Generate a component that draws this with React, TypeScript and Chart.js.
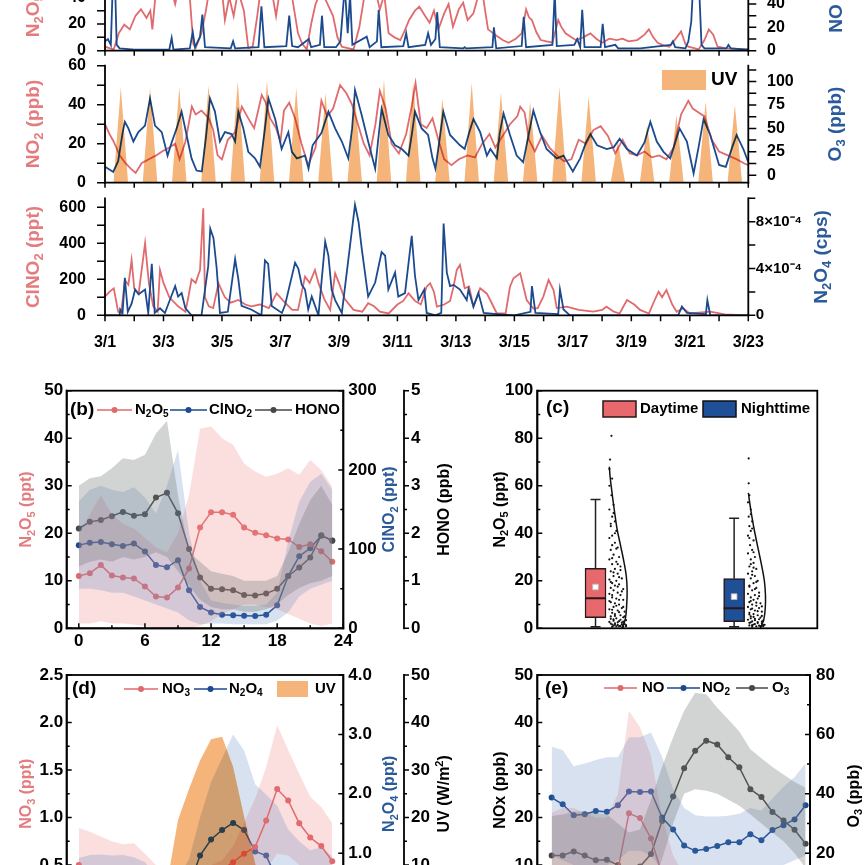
import { useEffect, useRef } from "react";
import { Chart, registerables } from "chart.js";

Chart.register(...registerables);

const FONT = "'Liberation Sans', Arial, Helvetica, sans-serif";
Chart.defaults.font.family = FONT;
Chart.defaults.font.weight = "bold";
Chart.defaults.color = "#000";

const PINK = "#E06A6D";
const BLUE = "#1B4A8E";
const GRAY = "#474747";
const PINK_T = "#E47C7F";
const BLUE_T = "#2B5A9B";
const UV_FILL = "rgb(245,180,122)";
const BAND_PINK = "rgba(240,140,140,0.28)";
const BAND_BLUE = "rgba(90,130,190,0.24)";
const BAND_GRAY = "rgba(105,112,112,0.3)";
const BOX_DAY = "#E8696D";
const BOX_NIGHT = "#1F4F97";

// ---- (a) time series, x = days since 3/1 ----
const n2o5TS = [[0,3],[0.15,2],[0.3,1],[0.47,13],[0.66,19.5],[0.85,16],[1.04,26],[1.23,31],[1.42,24.5],[1.55,30],[1.62,16],[1.72,40],[1.8,48],[2.0,55],[2.2,52],[2.4,35],[2.55,50],[2.75,60],[2.9,40],[3.02,5],[3.1,2],[3.3,13],[3.45,30],[3.6,50],[3.8,58],[4.0,45],[4.1,23],[4.25,40],[4.4,26],[4.55,45],[4.75,30],[4.9,2],[5.05,3],[5.2,25],[5.35,50],[5.55,60],[5.7,45],[5.85,26],[6.0,48],[6.2,55],[6.4,40],[6.6,13],[6.75,5],[6.9,1],[7.05,20],[7.2,35],[7.4,45],[7.55,38],[7.8,26],[7.95,10],[8.1,3],[8.3,2],[8.5,1],[8.7,18],[8.9,45],[9.1,55],[9.25,45],[9.4,31],[9.55,42],[9.7,13],[9.9,10],[10.1,8],[10.25,15],[10.4,23],[10.6,30],[10.75,33],[10.95,26],[11.1,21],[11.25,30],[11.4,16],[11.6,28],[11.75,35],[11.9,18],[12.1,31],[12.25,36],[12.4,23],[12.6,28],[12.75,40],[12.9,45],[13.0,30],[13.1,16],[13.4,11],[13.6,8],[13.8,6],[14.05,9],[14.25,13],[14.4,31],[14.5,25],[14.6,23],[14.75,14],[14.9,8],[15.1,7],[15.3,6],[15.5,23],[15.6,18],[15.75,13],[15.95,10],[16.1,8],[16.35,10],[16.6,13],[16.8,9],[17.0,6],[17.25,9],[17.5,8],[17.7,9],[17.9,7],[18.2,8],[18.45,12],[18.6,16],[18.75,10],[18.9,6],[19.1,4],[19.3,3],[19.55,10],[19.7,14.5],[19.85,5],[19.95,3],[20.15,2],[20.3,1],[20.5,8],[20.65,16],[20.8,12],[20.95,3],[21.2,2],[21.5,1.5],[21.8,1],[22,1]];

const noTS = [[0,8],[0.1,10],[0.2,5],[0.27,60],[0.33,70],[0.4,5],[0.5,2],[1.0,1],[2.2,1],[2.28,11],[2.34,1],[2.9,2],[3.0,16],[3.08,3],[3.25,12],[3.33,31],[3.42,3],[4.3,2],[4.38,8],[4.45,2],[5.25,3],[5.35,38],[5.45,3],[6.2,4],[6.3,30],[6.4,4],[6.6,3],[6.97,10],[7.05,3],[7.35,5],[7.42,30],[7.5,3],[7.9,3],[8.05,8],[8.2,55],[8.3,15],[8.38,48],[8.46,5],[8.95,12],[9.05,3],[9.3,8],[9.36,35],[9.45,3],[10.2,4],[10.3,15],[10.38,3],[10.95,5],[11.05,15],[11.15,5],[11.3,10],[11.36,33],[11.45,3],[12.25,2],[12.3,3],[12.35,2],[13.25,3],[13.3,20],[13.38,2],[14.25,4],[14.32,29],[14.4,3],[15.3,5],[15.38,50],[15.45,4],[16.05,5],[16.15,10],[16.25,3],[16.32,35],[16.4,3],[16.95,3],[17.02,23],[17.1,3],[17.45,5],[17.55,2],[18.3,2],[19.35,5],[19.42,8],[19.5,3],[19.85,2],[19.95,8],[20.05,25],[20.12,60],[20.2,70],[20.3,65],[20.4,5],[20.5,2],[21.25,2],[21.32,5],[21.4,2],[22,1]];

const no2TS = [[0,30],[0.15,25],[0.3,21],[0.5,14],[0.7,10],[0.9,7],[1.05,5],[1.25,10],[1.5,12],[1.75,14],[1.95,16],[2.2,18],[2.4,20],[2.55,12],[2.75,21],[2.97,39],[3.1,35],[3.3,37],[3.55,33],[3.7,27],[3.85,14],[4.0,12],[4.2,22],[4.45,26],[4.68,39],[4.9,33],[5.1,28],[5.36,45],[5.5,41],[5.65,33],[5.85,28],[6.0,21],[6.12,37],[6.3,41],[6.5,33],[6.72,20],[6.95,9],[7.2,18],[7.4,42],[7.6,34],[7.8,38],[8.04,50],[8.25,46],[8.45,40],[8.65,30],[8.85,20],[9.05,14],[9.25,30],[9.4,47],[9.6,38],[9.8,20],[10.05,15],[10.3,25],[10.5,40],[10.62,51],[10.8,30],[11.0,28],[11.2,33],[11.4,22],[11.6,12],[11.85,9],[12.1,12],[12.4,14],[12.65,13],[12.9,20],[13.15,25],[13.35,18],[13.6,24],[13.85,30],[14.1,34],[14.2,39],[14.35,36],[14.5,22],[14.7,16],[14.95,24],[15.2,18],[15.45,14],[15.7,11],[15.95,12],[16.2,22],[16.45,20],[16.7,27],[16.95,29],[17.2,24],[17.45,15],[17.7,22],[17.95,15],[18.2,14],[18.45,16],[18.7,13],[18.95,14],[19.2,12],[19.45,18],[19.7,35],[19.95,42],[20.1,38],[20.3,36],[20.5,34],[20.75,22],[21.0,16],[21.3,14],[21.6,12],[21.85,10],[22,9]];

const o3TS = [[0,9],[0.15,6],[0.28,3.5],[0.45,15],[0.6,45],[0.68,57],[0.8,50],[0.97,36],[1.14,46],[1.37,53],[1.54,82],[1.71,53],[1.94,46],[2.14,21],[2.28,35],[2.45,50],[2.62,68],[2.79,43],[2.96,18],[3.13,5],[3.31,4],[3.45,40],[3.59,82],[3.76,68],[3.93,36],[4.1,46],[4.33,44],[4.45,36],[4.56,68],[4.73,50],[4.9,25],[5.13,18],[5.3,9],[5.45,45],[5.59,82],[5.82,60],[6.04,28],[6.27,46],[6.39,25],[6.56,18],[6.84,21],[6.96,7],[7.1,32],[7.4,45],[7.64,68],[7.87,50],[8.1,36],[8.32,18],[8.45,50],[8.55,91],[8.78,64],[9.0,36],[9.24,7],[9.35,40],[9.46,71],[9.69,43],[9.92,32],[10.15,28],[10.38,21],[10.5,45],[10.6,68],[10.83,50],[11.05,43],[11.2,18],[11.3,7],[11.45,40],[11.57,68],[11.8,43],[12.14,32],[12.3,28],[12.45,45],[12.6,60],[12.83,46],[13.06,21],[13.18,28],[13.4,18],[13.5,45],[13.63,66],[13.85,43],[14.08,21],[14.3,14],[14.5,45],[14.65,69],[14.88,46],[15.1,28],[15.45,18],[15.68,21],[16.0,4],[16.25,18],[16.45,35],[16.6,44],[16.83,32],[17.16,28],[17.4,30],[17.6,39],[17.85,28],[18.19,21],[18.45,35],[18.65,57],[18.87,36],[19.1,25],[19.33,18],[19.5,35],[19.65,50],[19.9,36],[20.13,2],[20.3,30],[20.47,60],[20.7,43],[21.0,11],[21.23,9],[21.45,30],[21.6,43],[21.83,28],[22.0,14]];

// daily UV peak (same units as NO2 axis), one per day 3/1..3/22
const uvPeaks = [48.9,48.9,48.9,50,52,52.6,48.4,46,45,53,51.8,43.2,51.3,46.2,41.5,48.9,44.1,21,29.6,34.7,41.5,39.8];
const uvRise = 0.29, uvNoon = 0.54, uvSet = 0.79;

const clno2TS = [[0,104],[0.15,130],[0.3,150],[0.45,20],[0.55,10],[0.68,196],[0.8,170],[0.91,307],[1.0,150],[1.15,120],[1.37,400],[1.5,180],[1.65,50],[1.8,20],[1.88,252],[2.0,180],[2.2,100],[2.5,50],[2.75,20],[2.85,100],[2.96,200],[3.1,180],[3.25,252],[3.36,594],[3.42,100],[3.55,50],[3.7,40],[3.88,178],[4.1,100],[4.3,70],[4.56,85],[4.8,60],[5.0,50],[5.3,60],[5.6,40],[5.87,122],[6.1,80],[6.4,30],[6.6,30],[6.84,215],[7.0,180],[7.18,252],[7.3,180],[7.5,90],[7.7,30],[7.87,233],[8.0,180],[8.2,90],[8.5,30],[8.8,20],[9.0,67],[9.2,50],[9.4,20],[9.7,10],[10.0,60],[10.2,80],[10.38,122],[10.6,80],[10.8,60],[11.0,159],[11.12,178],[11.25,130],[11.35,48],[11.6,60],[11.8,80],[11.92,159],[12.03,252],[12.14,280],[12.3,150],[12.45,160],[12.6,48],[12.83,150],[13.06,120],[13.25,60],[13.4,10],[13.7,10],[13.85,159],[13.97,206],[14.2,233],[14.42,85],[14.65,38],[14.8,40],[14.99,104],[15.17,196],[15.34,140],[15.45,40],[15.79,48],[16.2,30],[16.7,20],[17.0,30],[17.15,48],[17.4,20],[17.6,10],[17.85,85],[18.1,60],[18.3,30],[18.6,10],[18.75,67],[18.93,131],[19.05,100],[19.2,141],[19.4,60],[19.55,20],[19.77,39],[20.0,10],[20.7,20],[21.2,5],[21.6,2],[22,0]];

// N2O4 in units of 1e-4 cps
const n2o4TS = [[0,0],[0.5,0],[0.52,0.5],[0.6,0.2],[0.68,3.2],[0.78,0.3],[0.91,1.0],[1.03,2.2],[1.15,1.8],[1.37,2.2],[1.48,0.2],[1.6,4.4],[1.7,0.2],[1.88,0.6],[2.05,0.2],[2.4,2.5],[2.5,1.6],[2.62,1.9],[2.75,0.6],[2.96,0],[3.3,0],[3.53,4.2],[3.6,7.4],[3.71,6.6],[3.82,4.0],[3.93,0.2],[4.2,0.3],[4.45,4.8],[4.56,3.1],[4.67,0.8],[5.0,0.5],[5.35,0],[5.47,4.7],[5.58,4.4],[5.7,0.8],[6.05,0.2],[6.16,0.9],[6.5,4.5],[6.61,4.0],[6.73,2.6],[6.84,2.2],[6.95,0.5],[7.07,1.6],[7.3,0],[7.53,6.3],[7.64,5.1],[7.75,2.2],[7.87,1.3],[8.1,0.2],[8.55,9.45],[8.67,8.0],[8.78,5.7],[9.0,1.6],[9.24,2.8],[9.46,5.4],[9.58,5.1],[9.69,2.2],[9.92,3.65],[10.03,1.6],[10.26,1.9],[10.49,6.8],[10.6,3.4],[10.72,1.3],[10.92,2.2],[11.0,0.2],[11.3,0],[11.5,0.2],[11.58,7.85],[11.69,3.65],[11.8,2.5],[11.92,2.6],[12.14,2.2],[12.37,1.3],[12.43,2.2],[12.6,0.75],[12.77,1.9],[12.95,0.2],[13.4,0.1],[14.0,0],[14.55,0.3],[14.6,2.5],[14.72,0.2],[15.5,0.1],[15.56,2.2],[15.68,0.5],[15.9,0],[19.6,0],[19.73,0.75],[19.9,0.2],[20.55,0.1],[20.6,1.3],[20.7,0],[22,0]];

const dayTicks = [0,1,2,3,4,5,6,7,8,9,10,11,12,13,14,15,16,17,18,19,20,21,22];
const dateTicks = [0,2,4,6,8,10,12,14,16,18,20,22];
const dateNames = ["3/1","3/3","3/5","3/7","3/9","3/11","3/13","3/15","3/17","3/19","3/21","3/23"];
const n2o5Ticks = [0,10,20,30,40,50,60,70,80];
const n2o5Labels = [0,20,40,60,80];
const noTicks = [0,10,20,30,40,50,60,70,80,90,100];
const noLabels = [0,20,40,60,80,100];
const no2Ticks = [0,10,20,30,40,50,60];
const no2Labels = [0,20,40,60];
const o3Ticks = [0,12.5,25,37.5,50,62.5,75,87.5,100,112.5];
const o3Labels = [0,25,50,75,100];
const clTicks = [0,100,200,300,400,500,600];
const clLabels = [0,200,400,600];
const n2o4Ticks = [0,2,4,6,8,10];
const n2o4Labels = [0,4,8];

// ---- (b) (d) (e) diurnal, x = hour ----
const hours = [0,1,2,3,4,5,6,7,8,9,10,11,12,13,14,15,16,17,18,19,20,21,22,23];
const bN2o5 = [11.0,11.6,13.3,11.1,10.7,10.5,8.8,6.7,6.5,8.6,12.6,21.2,24.4,24.4,23.9,21.2,20.1,19.6,18.9,18.7,17.1,17.7,16.2,14.0];
const bN2o5Hi = [20,24,28,24,22,21,19,17,16,20,28,42,42.5,40,38.6,34.7,33,31.9,32.5,33.7,32.3,35.4,33.3,29.8];
const bN2o5Lo = [1,1,1.5,1,1,0.8,0.5,0,0,0,0,0.5,1.5,3,4,5,5,4.5,4,3,2,1,0.5,1];
const bClno2 = [105,108,109,106,104,107,97,80,77,86,48,27,20,17,16.5,16,15.5,17,29,66,91,101,117,111];
const bClHi = [160,175,180,175,172,178,165,145,180,225,120,60,35,32,30,28,28,30,45,110,160,185,195,175];
const bClLo = [50,50,48,45,45,40,35,30,25,20,10,5,6,6,5,5,5,5,10,20,40,50,55,60];
const bHono = [2.10,2.24,2.28,2.36,2.45,2.37,2.40,2.75,2.85,2.42,1.67,1.07,0.83,0.82,0.80,0.70,0.69,0.73,0.83,1.10,1.28,1.49,1.96,1.84];
const bHonoHi = [3.0,3.16,3.2,3.37,3.58,3.54,3.65,4.1,4.37,2.8,1.6,1.4,1.2,1.15,1.1,1.0,1.0,1.0,1.1,1.6,2.2,2.7,3.0,2.6];
const bHonoLo = [1.3,1.4,1.45,1.4,1.5,1.45,1.5,1.6,1.5,1.2,0.9,0.6,0.45,0.4,0.4,0.35,0.35,0.4,0.5,0.7,0.85,0.95,1.0,1.1];

const dNo3 = [0.50,0.46,0.43,0.40,0.38,0.36,0.34,0.32,0.30,0.30,0.31,0.33,0.38,0.45,0.53,0.62,0.69,0.97,1.30,1.18,0.94,0.79,0.70,0.54];
const dNo3Hi = [0.89,0.85,0.80,0.75,0.72,0.73,0.62,0.5,0.45,0.42,0.42,0.45,0.5,0.55,0.7,0.95,1.2,1.53,1.97,1.71,1.46,1.22,1.11,0.94];
const dNo3Lo = [0.15,0.14,0.13,0.12,0.12,0.11,0.1,0.1,0.1,0.1,0.1,0.12,0.15,0.2,0.25,0.3,0.35,0.45,0.62,0.6,0.5,0.45,0.4,0.3];
const dN2o4 = [0.30,0.28,0.27,0.26,0.25,0.25,0.24,0.24,0.25,0.30,0.45,0.96,1.23,1.39,1.51,1.39,1.03,0.96,0.55,0.40,0.35,0.33,0.32,0.31];
const dN2o4Hi = [0.92,0.97,0.98,0.96,0.97,0.93,0.85,0.6,0.55,0.6,0.9,1.6,2.2,2.6,3.0,2.73,2.16,1.99,1.8,1.4,1.2,1.05,1.1,0.95];
const dN2o4Lo = [0.05,0.05,0.05,0.05,0.05,0.05,0.05,0.05,0.06,0.08,0.15,0.35,0.55,0.7,0.8,0.7,0.45,0.35,0.2,0.1,0.08,0.07,0.06,0.05];
const dUv = [0,0,0,0,0,0,0,0,6,19.5,26,32,36.5,37,30.7,20.2,10.4,3,0,0,0,0,0,0];

const eNo = [7,6.5,6,5.5,5.5,6,9,20.9,19.9,15.6,8,4,2.5,2,2,2,2,2.5,3,3.5,4,4.5,5,6];
const eNoHi = [21,22,22,21,20,20,25,42.5,39,33,20,12,8,7,7,7,7,7.5,8,8.5,9,9,9,9];
const eNoLo = [1,1,1,1,1,1,2,5,5,3,1,0.5,0.3,0.3,0.3,0.3,0.3,0.3,0.3,0.3,0.3,0.3,0.3,0.5];
const eNo2 = [24.2,22.8,20.5,20.7,21.4,21.2,22.6,25.5,25.4,25.5,20.0,17.5,14.1,13.0,13.4,14.0,14.8,14.8,16.5,15.2,17.4,18.4,19.6,22.6];
const eNo2Hi = [34.9,34.2,30.8,31.4,32.1,32.7,32.7,36.9,36.9,37.9,32.8,26,22,20.5,20.2,20.2,20.4,20.8,22,21.5,24,26.5,28.5,31.5];
const eNo2Lo = [12,11,10,10,10,10,11,13,13,12,9,7,6,5.5,5.5,6,6.5,7,8,8,9,10,11,12];
const eO3 = [19.2,19.2,20.6,19.2,17.6,17.8,16.0,13.8,15.5,19.7,30.8,39.1,48.6,54.5,57.9,56.6,52.3,48.9,41.5,38.9,33.9,31.0,27.9,23.2];
const eO3Hi = [32.5,33,34,34,33.5,33,30,27,28,38,49,59,68,74,73.5,69,65,61,55,52,49,46.5,44,42];
const eO3Lo = [5,5,5,5,5,4,4,3,3,8,18,30,40,41.5,41,40,38,36,33,30,27,24,20,15];

const hourTicks = [0,3,6,9,12,15,18,21,24];
const hourLabels = [0,6,12,18,24];

// ---- (c) box plots ----
const boxX = [1, 2];
const boxMin = [0.7, 0.7];
const boxQ1 = [4.5, 2.8];
const boxMed = [12.6, 8.4];
const boxQ3 = [25.2, 20.9];
const boxMax = [54.2, 46.3];
const boxMean = [17.4, 13.3];
const dayDots = [[0.115,81],[0.105,71],[0.1,67],[0.12,63],[0.1,60],[0.115,56],[0.13,52],[0.1,50],[0.12,47],[0.14,45],[0.11,43],[0.15,41],[0.12,39],[0.1,38],[0.14,36],[0.16,34],[0.11,33],[0.13,31],[0.17,30],[0.1,29],[0.15,28],[0.12,27],[0.18,26],[0.14,25],[0.11,24],[0.16,23],[0.13,22],[0.19,21],[0.1,20.5],[0.15,20],[0.12,19],[0.17,18.5],[0.14,18],[0.11,17],[0.2,16.5],[0.13,16],[0.16,15],[0.1,14.5],[0.18,14],[0.12,13],[0.15,12.5],[0.2,12],[0.11,11],[0.14,10.5],[0.17,10],[0.13,9],[0.19,8.5],[0.1,8],[0.16,7.5],[0.21,7],[0.12,6.5],[0.14,6],[0.18,5.5],[0.11,5],[0.2,4.6],[0.15,4.2],[0.13,3.8],[0.22,3.4],[0.17,3],[0.1,2.7],[0.19,2.4],[0.14,2.1],[0.21,1.8],[0.12,1.6],[0.16,1.4],[0.2,1.2],[0.18,1],[0.22,0.9],[0.15,0.8],[0.13,23.5],[0.17,21.5],[0.11,19.5],[0.16,17.5],[0.19,15.5],[0.12,14],[0.17,12],[0.1,11.5],[0.15,9.5],[0.2,9],[0.12,7.8],[0.17,6.8],[0.14,5.2],[0.21,5],[0.11,4],[0.18,3.6],[0.13,3.2],[0.2,2.8],[0.16,2.5],[0.11,2],[0.19,1.7],[0.14,1.5],[0.22,1.3],[0.13,1.1],[0.17,0.9],[0.2,0.7],[0.12,0.6],[0.15,33.5],[0.12,35],[0.14,40],[0.11,44],[0.13,48.5],[0.12,29.5],[0.16,27],[0.18,24.5]];
const nightDots = [[0.105,71.5],[0.105,61],[0.11,56],[0.1,53],[0.12,50],[0.105,47],[0.13,45],[0.11,43],[0.12,41],[0.1,39],[0.14,37],[0.115,35],[0.13,33],[0.1,31.5],[0.15,30],[0.12,29],[0.14,27.5],[0.11,26],[0.16,25],[0.13,24],[0.1,23],[0.15,22],[0.12,21],[0.17,20],[0.14,19],[0.11,18],[0.16,17],[0.13,16],[0.18,15],[0.1,14.5],[0.15,14],[0.12,13],[0.17,12.5],[0.14,12],[0.11,11],[0.19,10.5],[0.13,10],[0.16,9.5],[0.1,9],[0.18,8.5],[0.12,8],[0.15,7.5],[0.2,7],[0.11,6.5],[0.14,6],[0.17,5.5],[0.12,5],[0.19,4.5],[0.15,4],[0.1,3.6],[0.21,3.2],[0.13,2.9],[0.17,2.6],[0.11,2.3],[0.2,2],[0.15,1.8],[0.22,1.5],[0.13,1.3],[0.18,1.1],[0.21,0.9],[0.16,0.8],[0.13,22.5],[0.16,19.5],[0.11,17.5],[0.15,16.5],[0.18,13.5],[0.12,11.5],[0.16,10.8],[0.2,9.2],[0.13,8.3],[0.17,7.2],[0.11,5.8],[0.2,5.2],[0.14,4.8],[0.12,4.2],[0.18,3.8],[0.15,3.4],[0.2,2.8],[0.12,2.5],[0.17,2.2],[0.14,1.6],[0.21,1.3],[0.11,1.2],[0.19,0.9],[0.13,0.7],[0.12,27],[0.14,32],[0.11,38],[0.13,42],[0.12,48],[0.14,25.5]];
const dayCurve = [[0.19,0],[0.215,4],[0.225,10],[0.228,16],[0.222,22],[0.205,28],[0.18,35],[0.155,42],[0.135,50],[0.117,58],[0.105,64],[0.1,68]];
const nightCurve = [[0.19,0],[0.215,4],[0.225,9],[0.226,14],[0.218,20],[0.2,26],[0.175,33],[0.15,40],[0.128,47],[0.112,53],[0.103,57]];
const cTicks = [0,10,20,30,40,50,60,70,80,90,100];
const cLabels = [0,20,40,60,80,100];

// ---------------- helpers ----------------
type Ax = { pos: string; min: number; max: number; ticks: number[]; labels: number[]; box?: number; fs?: number; pad?: number; fmt?: (v: number) => string; weight?: number; hidden?: boolean };

function axis(a: Ax): any {
  const horiz = a.pos === "bottom";
  return {
    type: "linear", position: a.pos, min: a.min, max: a.max, bounds: "data", offset: false,
    weight: a.weight ?? 0, display: !a.hidden,
    grid: { display: false, drawTicks: false }, border: { display: false },
    afterBuildTicks: (s: any) => { s.ticks = a.ticks.map((value) => ({ value })); },
    afterFit: (s: any) => { if (a.hidden) return; if (horiz) s.height = a.box; else s.width = a.box; },
    ticks: {
      autoSkip: false, maxRotation: 0, minRotation: 0, padding: a.pad ?? 4, color: "#000",
      font: { size: a.fs ?? 17, weight: "bold" },
      callback: (v: number) => (a.labels.some((l) => Math.abs(l - v) < 1e-9) ? (a.fmt ? a.fmt(v) : String(v)) : ""),
    },
  };
}

const xy = (pts: number[][]) => pts.map(([x, y]) => ({ x, y }));
const byHour = (ys: number[]) => ys.map((y, i) => ({ x: hours[i], y }));
const clear = "rgba(0,0,0,0)";

function trace(pts: number[][], color: string, yAxisID: string, order: number) {
  return { type: "line", data: xy(pts), borderColor: color, borderWidth: 1.8, pointRadius: 0, fill: false, yAxisID, order };
}
function dotted(ys: number[], color: string, yAxisID: string, order: number) {
  return { type: "line", data: byHour(ys), borderColor: color, backgroundColor: color, borderWidth: 1.5, pointRadius: 3, pointBorderWidth: 0, pointBackgroundColor: color, fill: false, yAxisID, order };
}
function band(hi: number[], lo: number[], color: string, yAxisID: string, order: number) {
  return [
    { type: "line", data: byHour(hi), borderColor: clear, borderWidth: 0, pointRadius: 0, fill: "+1", backgroundColor: color, yAxisID, order },
    { type: "line", data: byHour(lo), borderColor: clear, borderWidth: 0, pointRadius: 0, fill: false, yAxisID, order },
  ];
}

function opts(padding: any, scales: any) {
  return {
    responsive: false, animation: false, events: [], layout: { padding }, scales,
    plugins: { legend: { display: false }, tooltip: { enabled: false } },
  };
}

function drawRich(ctx: CanvasRenderingContext2D, text: string, x: number, y: number, size: number, color: string, rot: boolean, align: string) {
  const parts: { s: string; k: number }[] = [];
  for (let i = 0; i < text.length; i++) {
    const ch = text[i];
    if ((ch === "_" || ch === "^") && i + 1 < text.length) {
      parts.push({ s: text[i + 1], k: ch === "_" ? 1 : 2 });
      i++;
    } else {
      const last = parts[parts.length - 1];
      if (last && last.k === 0) last.s += ch;
      else parts.push({ s: ch, k: 0 });
    }
  }
  const font = (k: number) => `bold ${k ? Math.round(size * 0.66) : size}px ${FONT}`;
  let w = 0;
  for (const p of parts) { ctx.font = font(p.k); w += ctx.measureText(p.s).width; }
  ctx.save();
  ctx.translate(x, y);
  if (rot) ctx.rotate(-Math.PI / 2);
  ctx.fillStyle = color;
  ctx.textBaseline = "middle";
  ctx.textAlign = "left";
  let cx = align === "left" ? 0 : -w / 2;
  for (const p of parts) {
    ctx.font = font(p.k);
    const dy = p.k === 1 ? size * 0.3 : p.k === 2 ? -size * 0.32 : 0;
    ctx.fillText(p.s, cx, dy);
    cx += ctx.measureText(p.s).width;
  }
  ctx.restore();
}

type Mark = { id: string; dir: string; major: number; minor: number };
type Txt = { t: string; x: number; y: number; s: number; c?: string; rot?: boolean; al?: string };
type Key = { k: string; x: number; y: number; x2?: number; w?: number; h?: number; c: string; edge?: string };
const mk = (id: string, dir: string, major: number, minor: number): Mark => ({ id, dir, major, minor });

function frame(ox: number, oy: number, marks: Mark[], boxed: boolean, texts: Txt[], keys: Key[], mulAfter?: number) {
  return {
    id: "frame",
    afterDatasetDraw(chart: any, args: any) {
      if (mulAfter !== undefined && args.index === mulAfter) chart.ctx.globalCompositeOperation = "multiply";
    },
    afterDatasetsDraw(chart: any) {
      chart.ctx.globalCompositeOperation = "source-over";
    },
    afterDraw(chart: any) {
      const ctx = chart.ctx;
      const ca = chart.chartArea;
      ctx.save();
      ctx.strokeStyle = "#000";
      ctx.lineCap = "square";
      for (const m of marks) {
        const sc = chart.scales[m.id];
        if (!sc) continue;
        const horiz = sc.isHorizontal();
        const left = sc.position === "left";
        const x0 = horiz ? 0 : left ? sc.right : sc.left;
        const y0 = horiz ? sc.top : 0;
        ctx.lineWidth = 1.8;
        ctx.beginPath();
        if (horiz) { ctx.moveTo(ca.left, y0); ctx.lineTo(ca.right, y0); }
        else { ctx.moveTo(x0, ca.top); ctx.lineTo(x0, ca.bottom); }
        ctx.stroke();
        const inward = m.dir === "in";
        const sgn = horiz ? (inward ? -1 : 1) : left ? (inward ? 1 : -1) : (inward ? -1 : 1);
        ctx.lineWidth = 1.5;
        ctx.lineCap = "butt";
        ctx.beginPath();
        for (const t of sc.ticks) {
          const p = sc.getPixelForValue(t.value);
          if (horiz ? p < ca.left - 0.5 || p > ca.right + 0.5 : p < ca.top - 0.5 || p > ca.bottom + 0.5) continue;
          const len = t.label === "" ? m.minor : m.major;
          if (horiz) { ctx.moveTo(p, y0); ctx.lineTo(p, y0 + sgn * len); }
          else { ctx.moveTo(x0, p); ctx.lineTo(x0 + sgn * len, p); }
        }
        ctx.stroke();
        ctx.lineCap = "square";
      }
      if (boxed) {
        ctx.lineWidth = 1.8;
        ctx.strokeRect(ca.left, ca.top, ca.right - ca.left, ca.bottom - ca.top);
      }
      for (const k of keys) {
        if (k.k === "ld") {
          ctx.strokeStyle = k.c;
          ctx.fillStyle = k.c;
          ctx.lineWidth = 1.5;
          ctx.lineCap = "butt";
          ctx.beginPath();
          ctx.moveTo(k.x - ox, k.y - oy);
          ctx.lineTo((k.x2 ?? k.x) - ox, k.y - oy);
          ctx.stroke();
          ctx.beginPath();
          ctx.arc((k.x + (k.x2 ?? k.x)) / 2 - ox, k.y - oy, 3, 0, Math.PI * 2);
          ctx.fill();
        } else {
          ctx.fillStyle = k.c;
          ctx.fillRect(k.x - ox, k.y - oy, k.w ?? 0, k.h ?? 0);
          if (k.edge) {
            ctx.strokeStyle = k.edge;
            ctx.lineWidth = 1.5;
            ctx.strokeRect(k.x - ox, k.y - oy, k.w ?? 0, k.h ?? 0);
          }
        }
      }
      for (const t of texts) drawRich(ctx, t.t, t.x - ox, t.y - oy, t.s, t.c ?? "#000", !!t.rot, t.al ?? "center");
      ctx.restore();
    },
  };
}

// ---------------- panel configs ----------------
const xDays = (box: number, labelled: boolean) =>
  axis({ pos: "bottom", min: 0, max: 22, ticks: dayTicks, labels: labelled ? dateTicks : [], box, fs: 16, pad: 18, fmt: (v) => dateNames[dateTicks.indexOf(v)] });

// canvas: top -100, height 181
const cfgA1 = () => ({
  type: "line",
  data: { datasets: [trace(noTS, BLUE, "yR", 0), trace(n2o5TS, PINK, "y", 1)] },
  options: opts({ top: 34, left: 0, right: 0, bottom: 0 }, {
    x: xDays(30.3, false),
    y: axis({ pos: "left", min: 0, max: 87.5, ticks: n2o5Ticks, labels: n2o5Labels, box: 105, fs: 16, pad: 19 }),
    yR: axis({ pos: "right", min: 0, max: 100, ticks: noTicks, labels: noLabels, box: 116.7, fs: 16, pad: 18.7 }),
  }),
  plugins: [frame(0, -100, [mk("x", "out", 5, 5), mk("y", "out", 8, 8), mk("yR", "out", 8, 8)], false, [
    { t: "N_2O_5 (ppt)", x: 34, y: -8, s: 19, c: PINK_T, rot: true },
    { t: "NO (ppb)", x: 837, y: -8, s: 19, c: BLUE_T, rot: true },
  ], [])],
});

// canvas: top 35, height 178
const cfgA2 = () => ({
  type: "line",
  data: {
    datasets: [
      {
        type: "line",
        data: xy(uvPeaks.flatMap((p, d) => [[d + uvRise, 0], [d + uvNoon, p], [d + uvSet, 0]])),
        borderColor: clear, borderWidth: 0, pointRadius: 0, fill: "origin", backgroundColor: UV_FILL, yAxisID: "yUV", order: 0,
      },
      trace(o3TS, BLUE, "yR", 1),
      trace(no2TS, PINK, "y", 2),
    ],
  },
  options: opts({ top: 30.7, left: 0, right: 0, bottom: 0 }, {
    x: xDays(30.3, false),
    y: axis({ pos: "left", min: 0, max: 60, ticks: no2Ticks, labels: no2Labels, box: 105, fs: 16, pad: 19 }),
    yR: axis({ pos: "right", min: -8, max: 117, ticks: o3Ticks, labels: o3Labels, box: 116.7, fs: 16, pad: 18.7 }),
    yUV: axis({ pos: "left", min: 0, max: 60, ticks: [], labels: [], hidden: true }),
  }),
  plugins: [frame(0, 35, [mk("x", "out", 5, 5), mk("y", "out", 8, 8), mk("yR", "out", 8, 8)], false, [
    { t: "NO_2 (ppb)", x: 34, y: 124, s: 19, c: PINK_T, rot: true },
    { t: "O_3 (ppb)", x: 836, y: 124, s: 19, c: BLUE_T, rot: true },
    { t: "UV", x: 711, y: 80, s: 19, al: "left" },
  ], [{ k: "box", x: 662, y: 70, w: 44, h: 20, c: UV_FILL }], 1)],
});

// canvas: top 168, height 192
const cfgA3 = () => ({
  type: "line",
  data: { datasets: [trace(n2o4TS, BLUE, "yR", 0), trace(clno2TS, PINK, "y", 1)] },
  options: opts({ top: 30.3, left: 0, right: 0, bottom: 0 }, {
    x: xDays(44.7, true),
    y: axis({ pos: "left", min: 0, max: 650, ticks: clTicks, labels: clLabels, box: 105, fs: 16, pad: 19 }),
    yR: axis({ pos: "right", min: 0, max: 10, ticks: n2o4Ticks, labels: n2o4Labels, box: 116.7, fs: 15, pad: 7.5, fmt: (v) => (v === 0 ? "0" : `${v}×10⁻⁴`) }),
  }),
  plugins: [frame(0, 168, [mk("x", "out", 6, 6), mk("y", "out", 8, 8), mk("yR", "out", 7, 7)], false, [
    { t: "ClNO_2 (ppt)", x: 34, y: 257, s: 19, c: PINK_T, rot: true },
    { t: "N_2O_4 (cps)", x: 822, y: 257, s: 19, c: BLUE_T, rot: true },
  ], [])],
});

const cfgB = () => ({
  type: "line",
  data: {
    datasets: [
      ...band(bHonoHi, bHonoLo, BAND_GRAY, "yH", 1),
      ...band(bClHi, bClLo, BAND_BLUE, "yR", 2),
      ...band(bN2o5Hi, bN2o5Lo, BAND_PINK, "y", 3),
      dotted(bN2o5, PINK, "y", 4),
      dotted(bHono, GRAY, "yH", 5),
      dotted(bClno2, BLUE, "yR", 6),
    ],
  },
  options: opts({ top: 20.7, left: 0, right: 0, bottom: 0 }, {
    x: axis({ pos: "bottom", min: -1.1, max: 24, ticks: hourTicks, labels: hourLabels, box: 31.7, pad: 3 }),
    y: axis({ pos: "left", min: 0, max: 50, ticks: [0,5,10,15,20,25,30,35,40,45,50], labels: [0,10,20,30,40,50], box: 66.7, pad: 3.5 }),
    yR: axis({ pos: "right", min: 0, max: 300, ticks: [0,50,100,150,200,250,300], labels: [0,100,200,300], box: 60.7, pad: 5, weight: 0 }),
    yH: axis({ pos: "right", min: 0, max: 5, ticks: [0,0.5,1,1.5,2,2.5,3,3.5,4,4.5,5], labels: [0,1,2,3,4,5], box: 56, pad: 7, weight: 1 }),
  }),
  plugins: [frame(0, 370, [mk("x", "in", 5, 3), mk("y", "in", 5, 3), mk("yR", "in", 5, 3), mk("yH", "out", 5, 3)], true, [
    { t: "(b)", x: 70, y: 410, s: 19, al: "left" },
    { t: "N_2O_5", x: 135, y: 410, s: 15, al: "left" },
    { t: "ClNO_2", x: 209, y: 410, s: 15, al: "left" },
    { t: "HONO", x: 295, y: 410, s: 15, al: "left" },
    { t: "N_2O_5 (ppt)", x: 27, y: 509.5, s: 16, c: PINK_T, rot: true },
    { t: "ClNO_2 (ppt)", x: 390, y: 509.5, s: 16, c: BLUE_T, rot: true },
    { t: "HONO (ppb)", x: 445, y: 509.5, s: 16, rot: true },
  ], [
    { k: "ld", x: 97, x2: 132, y: 410, c: PINK },
    { k: "ld", x: 170, x2: 207, y: 410, c: BLUE },
    { k: "ld", x: 255, x2: 292, y: 410, c: GRAY },
  ])],
});

const cfgC = () => ({
  type: "bar",
  data: {
    datasets: [
      { type: "line", data: nightCurve.map(([o, v]) => ({ x: boxX[1] + o, y: v })), borderColor: "#111", borderWidth: 1.5, pointRadius: 0, tension: 0.4, fill: false, order: 0 },
      { type: "line", data: dayCurve.map(([o, v]) => ({ x: boxX[0] + o, y: v })), borderColor: "#111", borderWidth: 1.5, pointRadius: 0, tension: 0.4, fill: false, order: 0 },
      {
        type: "line", showLine: false, order: 1, pointRadius: 1.1, pointBorderWidth: 0, pointBackgroundColor: "#111",
        data: [...dayDots.map(([o, v]) => ({ x: boxX[0] + o, y: v })), ...nightDots.map(([o, v]) => ({ x: boxX[1] + o, y: v }))],
      },
      { type: "line", showLine: false, order: 0, pointStyle: "rect", pointRadius: 4, pointBackgroundColor: "#fff", pointBorderColor: "#bbb", pointBorderWidth: 0.8, data: boxX.map((x, i) => ({ x, y: boxMean[i] })) },
      { type: "line", showLine: false, order: 1, pointStyle: "line", pointRadius: 10.5, pointBorderColor: "#2a1717", pointBorderWidth: 2, data: boxX.map((x, i) => ({ x, y: boxMed[i] })) },
      { type: "bar", order: 2, grouped: false, barThickness: 21, borderSkipped: false, borderWidth: 1.5, borderColor: "#2a1717", backgroundColor: [BOX_DAY, BOX_NIGHT], data: boxX.map((x, i) => ({ x, y: [boxQ1[i], boxQ3[i]] })) },
      ...boxX.flatMap((x, i) => [
        { type: "line", order: 3, borderColor: "#222", borderWidth: 1.5, pointRadius: 0, fill: false, data: [{ x, y: boxQ3[i] }, { x, y: boxMax[i] }] },
        { type: "line", order: 3, borderColor: "#222", borderWidth: 1.5, pointRadius: 0, fill: false, data: [{ x, y: boxMin[i] }, { x, y: boxQ1[i] }] },
      ]),
      { type: "line", showLine: false, order: 3, pointStyle: "line", pointRadius: 5, pointBorderColor: "#222", pointBorderWidth: 1.5, data: boxX.flatMap((x, i) => [{ x, y: boxMax[i] }, { x, y: boxMin[i] }]) },
    ],
  },
  options: opts({ top: 20.7, left: 0, right: 47.7, bottom: 31.7 }, {
    x: axis({ pos: "bottom", min: 0.58, max: 2.6, ticks: [], labels: [], hidden: true }),
    y: axis({ pos: "left", min: 0, max: 100, ticks: cTicks, labels: cLabels, box: 67.3, pad: 4 }),
  }),
  plugins: [frame(470, 370, [mk("y", "in", 5, 3)], true, [
    { t: "(c)", x: 546, y: 408, s: 19, al: "left" },
    { t: "Daytime", x: 640, y: 409, s: 15, al: "left" },
    { t: "Nighttime", x: 741, y: 409, s: 15, al: "left" },
    { t: "N_2O_5 (ppt)", x: 500.5, y: 509.5, s: 16, rot: true },
  ], [
    { k: "box", x: 603, y: 401, w: 33, h: 16, c: BOX_DAY, edge: "#2a1717" },
    { k: "box", x: 703, y: 401, w: 33, h: 16, c: BOX_NIGHT, edge: "#111" },
  ])],
});

const cfgD = () => ({
  type: "line",
  data: {
    datasets: [
      { type: "line", data: byHour(dUv), borderColor: clear, borderWidth: 0, pointRadius: 0, fill: "origin", backgroundColor: UV_FILL, yAxisID: "yU", order: 0 },
      dotted(dNo3, PINK, "y", 1),
      ...band(dN2o4Hi, dN2o4Lo, BAND_BLUE, "yR", 2),
      ...band(dNo3Hi, dNo3Lo, BAND_PINK, "y", 3),
      dotted(dN2o4, BLUE, "yR", 4),
    ],
  },
  options: opts({ top: 20, left: 0, right: 0, bottom: 0 }, {
    x: axis({ pos: "bottom", min: -1.1, max: 24, ticks: hourTicks, labels: hourLabels, box: 42.4, pad: 3 }),
    y: axis({ pos: "left", min: 0, max: 2.5, ticks: [0,0.25,0.5,0.75,1,1.25,1.5,1.75,2,2.25,2.5], labels: [0,0.5,1,1.5,2,2.5], box: 66.7, pad: 3.5, fmt: (v) => v.toFixed(1) }),
    yR: axis({ pos: "right", min: 0, max: 4, ticks: [0,0.5,1,1.5,2,2.5,3,3.5,4], labels: [0,1,2,3,4], box: 60.7, pad: 5, weight: 0, fmt: (v) => v.toFixed(1) }),
    yU: axis({ pos: "right", min: 0, max: 50, ticks: [0,5,10,15,20,25,30,35,40,45,50], labels: [0,10,20,30,40,50], box: 56, pad: 7, weight: 1 }),
  }),
  plugins: [frame(0, 655, [mk("x", "in", 5, 3), mk("y", "in", 5, 3), mk("yR", "in", 5, 3), mk("yU", "out", 5, 3)], true, [
    { t: "(d)", x: 72, y: 689, s: 19, al: "left" },
    { t: "NO_3", x: 162, y: 689, s: 15, al: "left" },
    { t: "N_2O_4", x: 229, y: 689, s: 15, al: "left" },
    { t: "UV", x: 315, y: 689, s: 15, al: "left" },
    { t: "NO_3 (ppt)", x: 27, y: 793.8, s: 16, c: PINK_T, rot: true },
    { t: "N_2O_4 (ppt)", x: 390, y: 793.8, s: 16, c: BLUE_T, rot: true },
    { t: "UV (W/m^2)", x: 445, y: 793.8, s: 16, rot: true },
  ], [
    { k: "ld", x: 124, x2: 158, y: 689, c: PINK },
    { k: "ld", x: 194, x2: 227, y: 689, c: BLUE },
    { k: "box", x: 277, y: 681, w: 31, h: 16, c: UV_FILL },
  ], 1)],
});

const cfgE = () => ({
  type: "line",
  data: {
    datasets: [
      ...band(eO3Hi, eO3Lo, BAND_GRAY, "yR", 1),
      ...band(eNo2Hi, eNo2Lo, BAND_BLUE, "y", 2),
      ...band(eNoHi, eNoLo, BAND_PINK, "y", 3),
      dotted(eNo, PINK, "y", 4),
      dotted(eNo2, BLUE, "y", 5),
      dotted(eO3, GRAY, "yR", 6),
    ],
  },
  options: opts({ top: 20, left: 0, right: 0, bottom: 0 }, {
    x: axis({ pos: "bottom", min: -1.3, max: 23.4, ticks: [0,3,6,9,12,15,18,21], labels: [0,6,12,18], box: 42.4, pad: 3 }),
    y: axis({ pos: "left", min: 0, max: 50, ticks: [0,5,10,15,20,25,30,35,40,45,50], labels: [0,10,20,30,40,50], box: 67.3, pad: 4 }),
    yR: axis({ pos: "right", min: 0, max: 80, ticks: [0,10,20,30,40,50,60,70,80], labels: [0,20,40,60,80], box: 55, pad: 6 }),
  }),
  plugins: [frame(470, 655, [mk("x", "in", 5, 3), mk("y", "in", 5, 3), mk("yR", "in", 5, 3)], true, [
    { t: "(e)", x: 545, y: 689, s: 19, al: "left" },
    { t: "NO", x: 642, y: 688, s: 15, al: "left" },
    { t: "NO_2", x: 702, y: 688, s: 15, al: "left" },
    { t: "O_3", x: 772, y: 688, s: 15, al: "left" },
    { t: "NOx (ppb)", x: 500.5, y: 790, s: 16, rot: true },
    { t: "O_3 (ppb)", x: 854.5, y: 796, s: 16, rot: true },
  ], [
    { k: "ld", x: 604, x2: 637, y: 688, c: PINK },
    { k: "ld", x: 667, x2: 700, y: 688, c: BLUE },
    { k: "ld", x: 736, x2: 768, y: 688, c: GRAY },
  ])],
});

function Panel({ left, top, width, height, make }: { left: number; top: number; width: number; height: number; make: () => any }) {
  const ref = useRef<HTMLCanvasElement | null>(null);
  useEffect(() => {
    if (!ref.current) return;
    const chart = new Chart(ref.current, make());
    return () => chart.destroy();
  }, [make]);
  return <canvas ref={ref} width={width} height={height} style={{ position: "absolute", left, top, width, height }} />;
}

export default function App() {
  return (
    <div style={{ position: "fixed", left: 0, top: 0, width: 865, height: 865, overflow: "hidden", background: "#fff" }}>
      <Panel left={0} top={-100} width={865} height={181} make={cfgA1} />
      <Panel left={0} top={35} width={865} height={178} make={cfgA2} />
      <Panel left={0} top={168} width={865} height={192} make={cfgA3} />
      <Panel left={0} top={370} width={460} height={290} make={cfgB} />
      <Panel left={470} top={370} width={395} height={290} make={cfgC} />
      <Panel left={0} top={655} width={460} height={300} make={cfgD} />
      <Panel left={470} top={655} width={395} height={300} make={cfgE} />
    </div>
  );
}
